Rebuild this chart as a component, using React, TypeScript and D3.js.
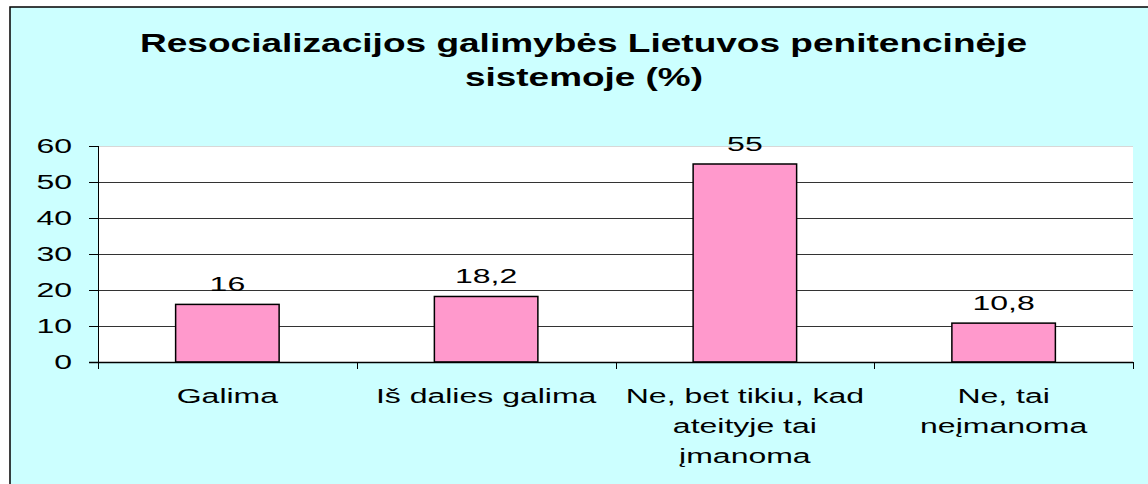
import React from "react";
import * as d3 from "d3";

const categories: string[][] = [
  ["Galima"],
  ["Iš dalies galima"],
  ["Ne, bet tikiu, kad", "ateityje tai", "įmanoma"],
  ["Ne, tai", "neįmanoma"],
];
const values: number[] = [16, 18.2, 55, 10.8];
const valueLabels: string[] = ["16", "18,2", "55", "10,8"];
const yTicks: number[] = [0, 10, 20, 30, 40, 50, 60];
const titleLines: string[] = ["Resocializacijos galimybės Lietuvos penitencinėje", "sistemoje (%)"];

const W = 1148;
const H = 484;
const plot = { left: 98, right: 1133, top: 146, bottom: 362 };
const SX = 1.6; // horizontal stretch of text in the reference
const FONT = "'Liberation Sans', Arial, sans-serif";

export default function App() {
  const x = d3
    .scaleBand<number>()
    .domain(values.map((_, i) => i))
    .range([plot.left, plot.right])
    .paddingInner(0.6)
    .paddingOuter(0.3);
  const bandStep = x.step();
  const y = d3.scaleLinear().domain([0, 60]).range([plot.bottom, plot.top]);
  const boundaries = d3.range(values.length + 1).map((i) => plot.left + i * bandStep);

  const sText = (
    key: string,
    tx: number,
    ty: number,
    content: string,
    anchor: "start" | "middle" | "end",
    size = 20
  ) => (
    <text
      key={key}
      transform={`translate(${tx},${ty}) scale(${SX},1)`}
      textAnchor={anchor}
      fontFamily={FONT}
      fontSize={size}
      fill="#000"
    >
      {content}
    </text>
  );

  return (
    <svg
      width={W}
      height={H}
      style={{ position: "absolute", left: 0, top: 0, display: "block" }}
    >
      <rect x={0} y={0} width={W} height={H} fill="#ffffff" />
      <rect x={10} y={7} width={W + 20} height={H + 20} fill="#CCFFFF" stroke="#000" strokeWidth={1.5} />

      {/* title */}
      <text
        x={583.5}
        y={52}
        textAnchor="middle"
        fontFamily={FONT}
        fontWeight="bold"
        fontSize={26}
        textLength={887}
        lengthAdjust="spacingAndGlyphs"
      >
        {titleLines[0]}
      </text>
      <text
        x={584}
        y={86}
        textAnchor="middle"
        fontFamily={FONT}
        fontWeight="bold"
        fontSize={26}
        textLength={238}
        lengthAdjust="spacingAndGlyphs"
      >
        {titleLines[1]}
      </text>

      {/* plot area */}
      <rect
        x={plot.left}
        y={plot.top}
        width={plot.right - plot.left}
        height={plot.bottom - plot.top}
        fill="#ffffff"
      />
      <line x1={plot.left} x2={plot.right} y1={plot.top + 0.5} y2={plot.top + 0.5} stroke="#d8d8d8" strokeWidth={1} />

      {/* gridlines */}
      {yTicks
        .filter((t) => t > 0 && t < 60)
        .map((t) => (
          <line
            key={`g${t}`}
            x1={plot.left}
            x2={plot.right}
            y1={Math.round(y(t)) + 0.5}
            y2={Math.round(y(t)) + 0.5}
            stroke="#333"
            strokeWidth={1}
          />
        ))}

      {/* bars */}
      {values.map((v, i) => (
        <rect
          key={`b${i}`}
          x={x(i)}
          y={y(v)}
          width={x.bandwidth()}
          height={plot.bottom - y(v)}
          fill="#FF99CC"
          stroke="#000"
          strokeWidth={1.5}
        />
      ))}

      {/* axes */}
      <line x1={plot.left + 0.5} x2={plot.left + 0.5} y1={plot.top} y2={plot.bottom + 7} stroke="#000" strokeWidth={1} />
      <line x1={plot.left - 9} x2={plot.right} y1={plot.bottom + 0.5} y2={plot.bottom + 0.5} stroke="#000" strokeWidth={1.5} />
      {yTicks.map((t) => (
        <line
          key={`yt${t}`}
          x1={plot.left - 9}
          x2={plot.left}
          y1={Math.round(y(t)) + 0.5}
          y2={Math.round(y(t)) + 0.5}
          stroke="#000"
          strokeWidth={1}
        />
      ))}
      {boundaries.map((bx, i) => (
        <line
          key={`xt${i}`}
          x1={Math.round(bx) + 0.5}
          x2={Math.round(bx) + 0.5}
          y1={plot.bottom}
          y2={plot.bottom + 7}
          stroke="#000"
          strokeWidth={1}
        />
      ))}

      {/* y tick labels */}
      {yTicks.map((t) => sText(`yl${t}`, 72, y(t) + 7, String(t), "end"))}

      {/* value labels */}
      {values.map((v, i) =>
        sText(`vl${i}`, (x(i) as number) + x.bandwidth() / 2, y(v) - 13, valueLabels[i], "middle")
      )}

      {/* category labels */}
      {categories.map((lines, i) =>
        lines.map((ln, j) =>
          sText(`cl${i}-${j}`, plot.left + (i + 0.5) * bandStep, 403 + j * 30, ln, "middle")
        )
      )}
    </svg>
  );
}
